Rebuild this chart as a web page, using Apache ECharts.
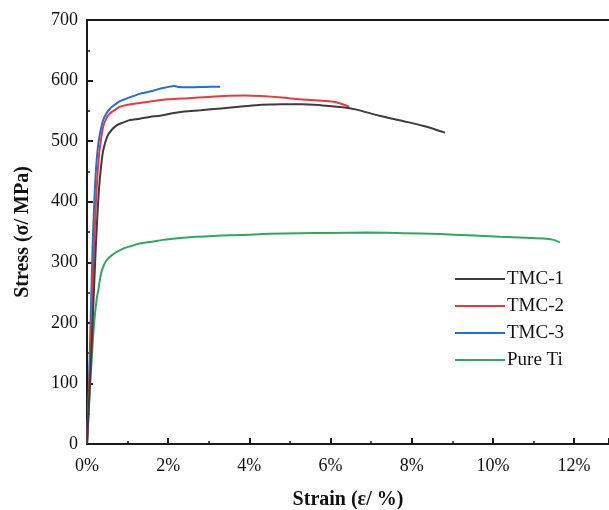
<!DOCTYPE html>
<html><head><meta charset="utf-8">
<script src="https://cdn.jsdelivr.net/npm/echarts@6/dist/echarts.min.js"></script>
<style>html,body{margin:0;padding:0;background:#fff}#c{width:609px;height:510px}</style>
</head><body><div id="c"></div>
<script>
var seriesNames = ['TMC-1', 'TMC-2', 'TMC-3', 'Pure Ti'];
var tmc1 = [[0,0],[0.1,140],[0.2,300],[0.25,370],[0.3,425],[0.35,460],[0.4,485],[0.5,508],[0.6,518],[0.73,526],[0.9,531],[1.06,535],[1.3,537],[1.55,540],[1.8,542],[2.1,546],[2.4,549],[2.8,551],[3.3,554],[3.8,557],[4.3,560],[4.8,561],[5.3,561],[5.8,559],[6.3,556],[6.64,552],[7.2,542],[7.8,533],[8.3,525],[8.82,514]];
var tmc2 = [[0,0],[0.1,180],[0.17,320],[0.2,370],[0.24,425],[0.3,480],[0.35,505],[0.4,524],[0.48,538],[0.57,546],[0.7,552],[0.81,557],[1.0,560],[1.3,563],[1.6,566],[2.0,569],[2.5,571],[3.0,573],[3.5,575],[3.9,575.5],[4.3,574.5],[4.8,572],[5.25,569],[5.7,567],[6.06,565],[6.3,561],[6.46,557]];
var tmc3 = [[0,0],[0.04,80],[0.1,230],[0.14,330],[0.18,400],[0.22,452],[0.26,485],[0.3,505],[0.35,522],[0.4,535],[0.48,546],[0.57,554],[0.7,561],[0.81,566],[1.0,571],[1.3,578],[1.5,581],[1.72,585],[1.9,588],[2.04,590],[2.15,591],[2.25,589.5],[2.5,589],[2.9,589.5],[3.28,590]];
var pureTi = [[0,0],[0.08,100],[0.17,195],[0.24,240],[0.28,255],[0.32,272],[0.36,285],[0.42,296],[0.49,304],[0.6,311],[0.73,317],[0.9,323],[1.1,327],[1.3,331],[1.6,334],[1.87,337],[2.3,340],[2.7,342],[3.2,344],[3.77,345],[4.5,347],[5.25,348],[6.0,348.5],[6.9,349],[7.8,348],[8.7,346.5],[9.4,344.5],[10.17,342],[10.8,340.5],[11.32,339],[11.5,337],[11.65,333]];
var colors = ['#3d3d3d', '#e8393c', '#1f6fd8', '#2ea763'];
var xMin = 0, xMax = 12.86, xInterval = 2;
var yMin = 0, yMax = 700, yInterval = 100;
var xTitle = 'Strain (\u03b5/ %)';
var yTitle = 'Stress (\u03c3/ MPa)';

var font = 'Liberation Serif';
var axisCol = '#1a1a1a';
var chart = echarts.init(document.getElementById('c'));
var datas = [tmc1, tmc2, tmc3, pureTi];
chart.setOption({
  animation: false,
  backgroundColor: '#fff',
  grid: {left: 87, right: 0, top: 20, bottom: 66, outerBoundsMode: 'none', containLabel: false},
  legend: {
    orient: 'vertical', left: 450, top: 264,
    itemWidth: 50, itemHeight: 14, itemGap: 7,
    data: seriesNames.map(function(n, i){ return {name: n, icon: 'path://M0,6 L50,6 L50,8 L0,8 Z'}; }),
    textStyle: {fontFamily: font, fontSize: 19, color: '#111', padding: [0,0,0,-3], lineHeight: 20}
  },
  xAxis: [{
    type: 'value', min: xMin, max: xMax, interval: xInterval,
    name: xTitle, nameLocation: 'middle', nameGap: 46,
    nameTextStyle: {fontFamily: font, fontSize: 20, fontWeight: 'bold', color: '#111'},
    axisLine: {show: true, lineStyle: {color: axisCol, width: 2}},
    axisTick: {show: true, inside: true, length: 6, lineStyle: {color: axisCol, width: 2}},
    minorTick: {show: true, splitNumber: 2, length: 3, lineStyle: {color: axisCol, width: 1.5}},
    axisLabel: {fontFamily: font, fontSize: 18, color: '#111', margin: 13, showMaxLabel: false,
      formatter: function(v){ return v + '%'; }},
    splitLine: {show: false}
  }, {
    type: 'value', position: 'top', min: xMin, max: xMax,
    axisLine: {show: true, lineStyle: {color: axisCol, width: 2}},
    axisTick: {show: false}, axisLabel: {show: false}, splitLine: {show: false}
  }],
  yAxis: {
    type: 'value', min: yMin, max: yMax, interval: yInterval,
    name: yTitle, nameLocation: 'middle', nameGap: 54,
    nameTextStyle: {fontFamily: font, fontSize: 20, fontWeight: 'bold', color: '#111'},
    axisLine: {show: true, lineStyle: {color: axisCol, width: 2}},
    axisTick: {show: true, inside: true, length: 6, lineStyle: {color: axisCol, width: 2}},
    minorTick: {show: true, splitNumber: 2, length: 3, lineStyle: {color: axisCol, width: 1.5}},
    axisLabel: {fontFamily: font, fontSize: 18, color: '#111', margin: 9},
    splitLine: {show: false}
  },
  series: datas.map(function(d, i){
    return {
      name: seriesNames[i], type: 'line', data: d, showSymbol: false, symbol: 'none',
      smooth: 0.3, xAxisIndex: 0,
      lineStyle: {color: colors[i], width: 2}, itemStyle: {color: colors[i]}, z: 10 - i
    };
  })
});
</script></body></html>
